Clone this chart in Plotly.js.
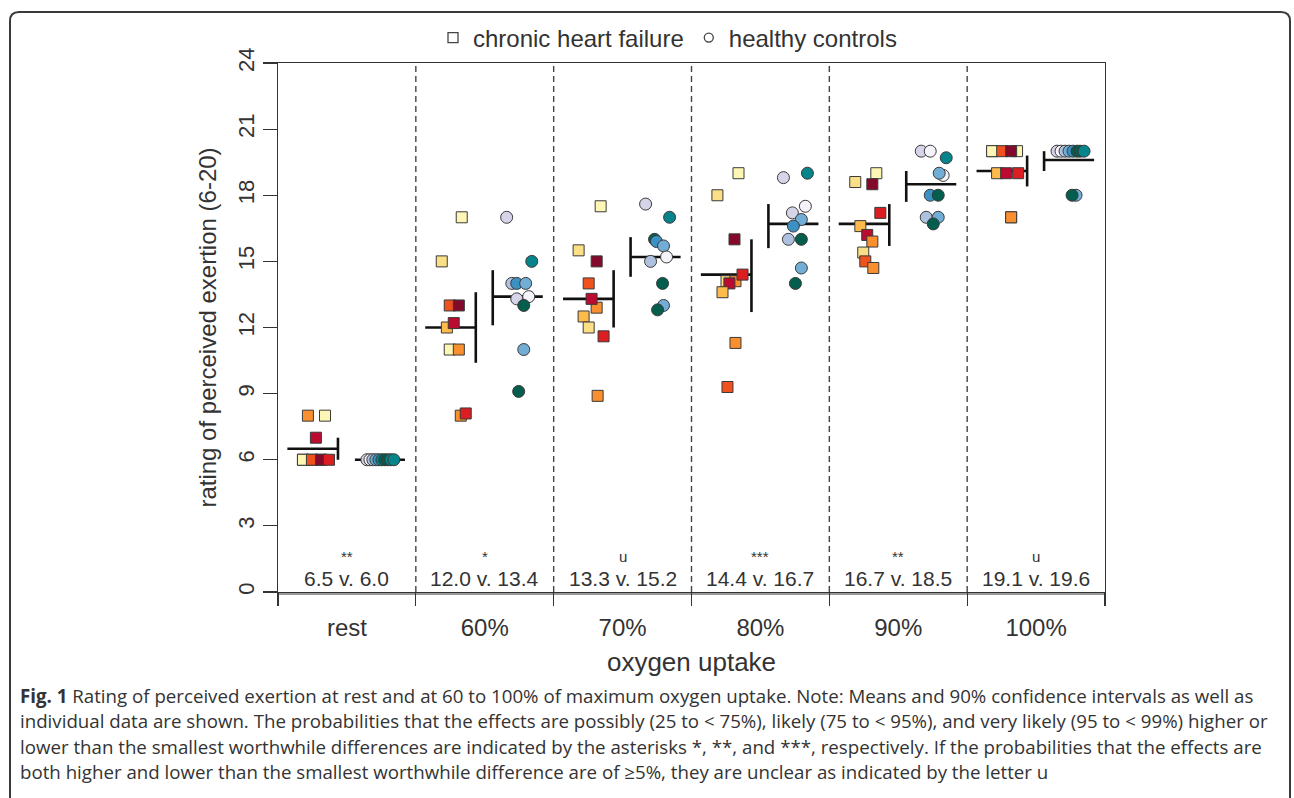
<!DOCTYPE html>
<html><head><meta charset="utf-8">
<script src="https://cdn.plot.ly/plotly-3.0.1.min.js"></script>
<style>html,body{margin:0;padding:0;background:#fff}#chart{width:1294px;height:798px}</style>
</head><body><div id="chart"></div>
<script>
// ---------- data ----------
const groups = ['rest', '60%', '70%', '80%', '90%', '100%'];
const chfMean   = [6.5, 12.0, 13.3, 14.4, 16.7, 19.1];
const hcMean    = [6.0, 13.4, 15.2, 16.7, 18.5, 19.6];
const chfCiLow  = [6.0, 10.4, 12.0, 12.7, 15.7, 18.4];
const chfCiHigh = [7.0, 13.6, 14.6, 16.0, 17.6, 19.8];
const hcCiLow   = [6.0, 12.1, 14.3, 15.6, 17.7, 19.1];
const hcCiHigh  = [6.0, 14.6, 16.1, 17.6, 19.1, 20.0];
const significance = ['**', '*', 'u', '***', '**', 'u'];

// individual ratings, chronic heart failure (per group)
const chfValues = [
  [6, 6, 6, 8, 8, 7, 6, 6, 6, 6],
  [17, 15, 13, 13, 12, 12.2, 11, 11, 8, 8.1],
  [17.5, 15.5, 15, 14, 12.9, 13.3, 12.5, 12, 11.6, 8.9],
  [19, 18, 16, 14.1, 14.1, 14.4, 14, 13.6, 11.3, 9.3],
  [19, 18.6, 18.5, 17.2, 16.6, 16.2, 15.9, 15.4, 15, 14.7],
  [20, 17, 20, 20, 20, 20, 19, 19, 19, 17]
];
const chfJitter = [
  [-0.254, -0.188, -0.319, -0.283, -0.159, -0.225, -0.319, -0.254, -0.188, -0.130],
  [-0.167, -0.312, -0.254, -0.188, -0.275, -0.225, -0.254, -0.188, -0.174, -0.138],
  [-0.159, -0.319, -0.188, -0.246, -0.188, -0.225, -0.283, -0.246, -0.138, -0.181],
  [-0.159, -0.312, -0.188, -0.246, -0.181, -0.130, -0.225, -0.275, -0.181, -0.239],
  [-0.159, -0.312, -0.188, -0.130, -0.275, -0.225, -0.188, -0.254, -0.239, -0.181],
  [-0.319, -0.181, -0.138, -0.319, -0.246, -0.181, -0.283, -0.217, -0.130, -0.181]
];
const chfPatient = [
  [1, 3, 2, 3, 0, 6, 0, 4, 7, 5],
  [0, 1, 4, 7, 2, 6, 0, 3, 3, 5],
  [0, 1, 7, 4, 3, 6, 2, 1, 5, 3],
  [0, 1, 7, 1, 3, 5, 6, 2, 3, 4],
  [0, 1, 7, 5, 2, 6, 3, 1, 4, 3],
  [1, 3, 0, 0, 4, 7, 2, 6, 5, 3]
];

// individual ratings, healthy controls (per group)
const hcValues = [
  [6, 6, 6, 6, 6, 6, 6, 6, 6, 6],
  [17, 15, 14, 14, 14, 13.3, 13.4, 13, 11, 9.1],
  [17.6, 17, 16, 15.9, 15.7, 15, 15.2, 14, 13, 12.8],
  [18.8, 19, 17.5, 17.2, 16.9, 16.6, 16, 16, 14.7, 14],
  [20, 20, 19.7, 18.9, 19, 18, 18, 17, 17, 16.7],
  [20, 20, 20, 20, 20, 20, 20, 20, 18, 18]
];
const hcJitter = [
  [0.145, 0.167, 0.188, 0.210, 0.232, 0.254, 0.275, 0.297, 0.319, 0.341],
  [0.159, 0.341, 0.196, 0.232, 0.297, 0.232, 0.319, 0.283, 0.283, 0.246],
  [0.167, 0.341, 0.232, 0.246, 0.297, 0.203, 0.319, 0.290, 0.297, 0.254],
  [0.167, 0.341, 0.326, 0.232, 0.297, 0.239, 0.203, 0.297, 0.297, 0.254],
  [0.167, 0.232, 0.348, 0.326, 0.297, 0.232, 0.290, 0.203, 0.290, 0.254],
  [0.152, 0.181, 0.210, 0.239, 0.268, 0.297, 0.319, 0.348, 0.290, 0.261]
];
const hcPerson = [
  [1, 0, 2, 3, 4, 5, 6, 6, 5, 5],
  [1, 5, 2, 4, 3, 1, 0, 6, 3, 6],
  [1, 5, 6, 4, 3, 2, 0, 6, 3, 6],
  [1, 5, 0, 1, 3, 4, 2, 6, 3, 6],
  [1, 0, 5, 0, 3, 4, 6, 2, 3, 6],
  [1, 0, 2, 3, 4, 6, 6, 5, 3, 6]
];

const caption = [
  '<b>Fig. 1</b> Rating of perceived exertion at rest and at 60 to 100% of maximum oxygen uptake. Note: Means and 90% confidence intervals as well as',
  'individual data are shown. The probabilities that the effects are possibly (25 to < 75%), likely (75 to < 95%), and very likely (95 to < 99%) higher or',
  'lower than the smallest worthwhile differences are indicated by the asterisks *, **, and ***, respectively. If the probabilities that the effects are',
  'both higher and lower than the smallest worthwhile difference are of ≥5%, they are unclear as indicated by the letter u'
];

// ---------- styling ----------
const chfPalette = ['#FEF6B5', '#FBDF86', '#FDBB4C', '#F98F2E', '#F0521F', '#DC1E22', '#BC0A30', '#830A2A'];
const hcPalette  = ['#F5F2F9', '#D6D4E9', '#AEC1DE', '#72ADD5', '#3A91C2', '#06848C', '#045E4E'];
const FONT = 'Liberation Sans, Arial, Helvetica, sans-serif';
const INK = '#333333';

const Lp = 278, Rp = 1105, Tp = 63, Bp = 592;
const px = x => (x - Lp) / (Rp - Lp);
const py = y => (Bp - y) / (Bp - Tp);

const traces = [];

// mean and CI lines
function lineTrace(means, lo, hi, a, b, ciAt) {
  const x = [], y = [];
  means.forEach((m, i) => {
    x.push(i + a, i + b, null, i + ciAt, i + ciAt, null);
    y.push(m, m, null, lo[i], hi[i], null);
  });
  return {type: 'scatter', mode: 'lines', x, y, showlegend: false, hoverinfo: 'skip',
          line: {color: '#111', width: 2.6}};
}
traces.push(lineTrace(chfMean, chfCiLow, chfCiHigh, -0.432, -0.065, -0.065));
traces.push(lineTrace(hcMean, hcCiLow, hcCiHigh, 0.058, 0.421, 0.058));

// individual points
function pointTrace(vals, jit, ids, pal, symbol, size) {
  const x = [], y = [], c = [];
  vals.forEach((g, i) => g.forEach((v, k) => {
    x.push(i + jit[i][k]); y.push(v); c.push(pal[ids[i][k]]);
  }));
  return {type: 'scatter', mode: 'markers', x, y, showlegend: false,
          marker: {symbol, size, color: c, line: {color: '#3a3a3a', width: 1}}};
}
traces.push(pointTrace(chfValues, chfJitter, chfPatient, chfPalette, 'square', 11));
traces.push(pointTrace(hcValues, hcJitter, hcPerson, hcPalette, 'circle', 12));

// legend entries
traces.push({type: 'scatter', mode: 'markers', x: [null], y: [null], name: 'chronic heart failure',
  marker: {symbol: 'square-open', size: 10, color: '#444', line: {width: 1.3}}});
traces.push({type: 'scatter', mode: 'markers', x: [null], y: [null], name: 'healthy controls',
  marker: {symbol: 'circle-open', size: 9, color: '#444', line: {width: 1.3}}});

const shapes = [];
for (let i = 0; i < groups.length - 1; i++) {
  shapes.push({type: 'line', xref: 'x', yref: 'y', x0: i + 0.5, x1: i + 0.5, y0: 0, y1: 24,
    line: {color: '#444', width: 1.4, dash: '6px,4px'}});
}
// second bottom line (double rule)
shapes.push({type: 'line', xref: 'paper', yref: 'paper', x0: 0, x1: 1, y0: py(594), y1: py(594),
  line: {color: INK, width: 1}});
// outer rounded frame
const fx = v => px(v).toFixed(5), fy = v => py(v).toFixed(5);
shapes.push({type: 'path', xref: 'paper', yref: 'paper', layer: 'above',
  path: `M ${fx(10)} ${fy(805)} L ${fx(10)} ${fy(21)} Q ${fx(10)} ${fy(12)} ${fx(19)} ${fy(12)} L ${fx(1281)} ${fy(12)} Q ${fx(1290)} ${fy(12)} ${fx(1290)} ${fy(21)} L ${fx(1290)} ${fy(805)}`,
  line: {color: '#3a3a3a', width: 2}});

const annotations = [];
groups.forEach((g, i) => {
  annotations.push({xref: 'x', yref: 'paper', x: i, y: py(556), text: significance[i], showarrow: false,
    font: {family: FONT, size: 15, color: INK}, yanchor: 'middle'});
  annotations.push({xref: 'x', yref: 'paper', x: i, y: py(578), showarrow: false,
    text: chfMean[i].toFixed(1) + ' v. ' + hcMean[i].toFixed(1),
    font: {family: FONT, size: 21, color: INK}, yanchor: 'middle'});
});
caption.forEach((t, k) => {
  annotations.push({xref: 'paper', yref: 'paper', x: px(18), y: py(695 + k * 25.5), xanchor: 'left', yanchor: 'middle',
    align: 'left', showarrow: false, text: t, font: {family: 'Open Sans, Noto Sans, sans-serif', size: 18.7, color: '#333'}});
});

const layout = {
  width: 1294, height: 798,
  margin: {l: Lp, r: 1294 - Rp, t: Tp, b: 798 - Bp, pad: 0},
  paper_bgcolor: '#fff', plot_bgcolor: '#fff',
  font: {family: FONT, color: INK},
  showlegend: true,
  legend: {orientation: 'h', x: px(433), xanchor: 'left', y: py(38), yanchor: 'middle',
    font: {family: FONT, size: 24, color: INK}, bgcolor: 'rgba(0,0,0,0)', itemclick: false},
  xaxis: {range: [-0.5, 5.5], tickvals: [0, 1, 2, 3, 4, 5], ticktext: groups,
    ticks: 'outside', ticklen: 14, tickcolor: 'rgba(0,0,0,0)', tickfont: {size: 24, color: INK},
    minor: {ticks: 'outside', tick0: 0.5, dtick: 1, ticklen: 13, tickcolor: INK, tickwidth: 1.2},
    showline: true, mirror: true, linecolor: INK, linewidth: 1.2, showgrid: false, zeroline: false,
    title: {text: 'oxygen uptake', font: {size: 26, color: INK}, standoff: 12}},
  yaxis: {range: [0, 24], tickvals: [0, 3, 6, 9, 12, 15, 18, 21, 24], ticks: 'outside', ticklen: 14,
    tickcolor: INK, tickwidth: 1.2, tickangle: -90, tickfont: {size: 22, color: INK},
    showline: true, mirror: true, linecolor: INK, linewidth: 1.2, showgrid: false, zeroline: false,
    title: {text: 'rating of perceived exertion (6-20)', font: {size: 24, color: INK}, standoff: 10}},
  shapes, annotations
};

Plotly.newPlot('chart', traces, layout, {displayModeBar: false, staticPlot: true});
</script></body></html>
